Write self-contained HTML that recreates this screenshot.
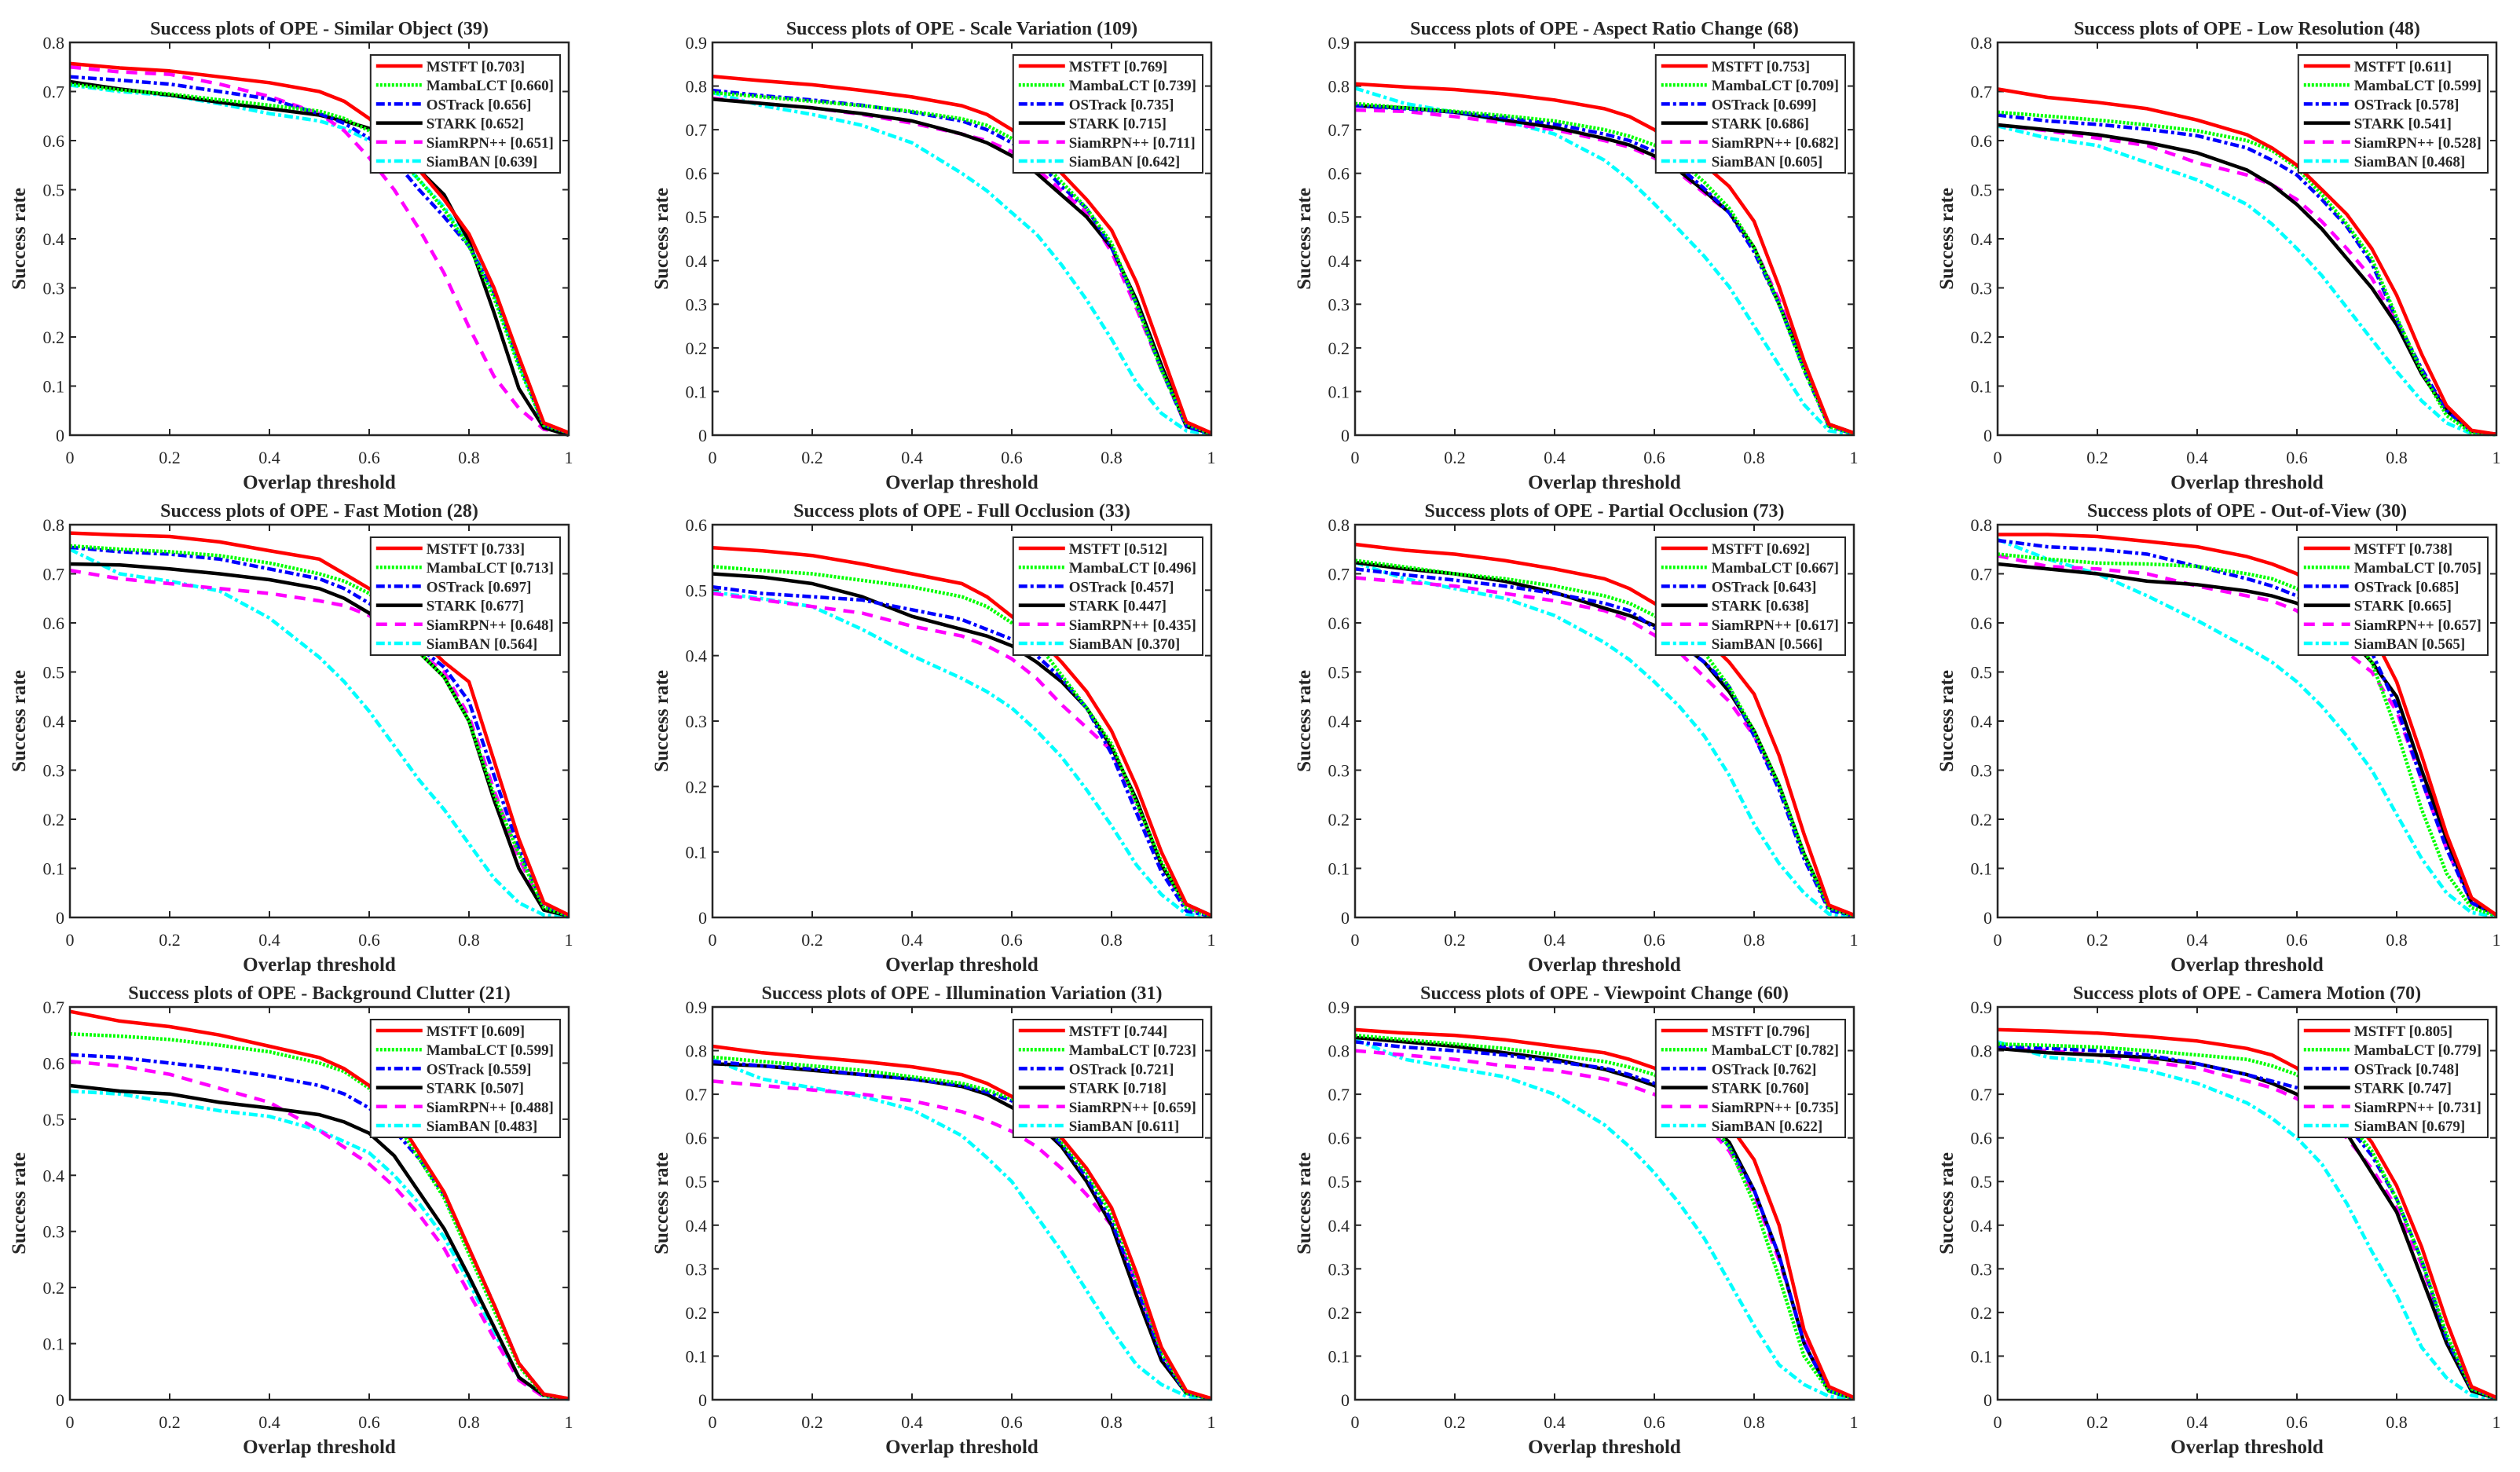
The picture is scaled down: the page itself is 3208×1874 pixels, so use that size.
<!DOCTYPE html>
<html><head><meta charset="utf-8"><style>
html,body{margin:0;padding:0;background:#fff;}
svg{display:block;}
text{font-family:"Liberation Serif",serif;fill:#262626;}
</style></head><body>
<svg id="fig" width="3208" height="1874" viewBox="0 0 3208 1874" xmlns="http://www.w3.org/2000/svg"></svg>
<script>
const xs = [0,0.1,0.2,0.3,0.4,0.5,0.55,0.6,0.65,0.7,0.75,0.8,0.85,0.9,0.95,1];
const xTicks = ["0","0.2","0.4","0.6","0.8","1"];
const trackers = ["MSTFT","MambaLCT","OSTrack","STARK","SiamRPN++","SiamBAN"];
const titles = ["Similar Object (39)","Scale Variation (109)","Aspect Ratio Change (68)","Low Resolution (48)","Fast Motion (28)","Full Occlusion (33)","Partial Occlusion (73)","Out-of-View (30)","Background Clutter (21)","Illumination Variation (31)","Viewpoint Change (60)","Camera Motion (70)"];
const yMaxes = [0.8,0.9,0.9,0.8,0.8,0.6,0.8,0.8,0.7,0.9,0.9,0.9];
const scores = [
["0.703","0.660","0.656","0.652","0.651","0.639"],
["0.769","0.739","0.735","0.715","0.711","0.642"],
["0.753","0.709","0.699","0.686","0.682","0.605"],
["0.611","0.599","0.578","0.541","0.528","0.468"],
["0.733","0.713","0.697","0.677","0.648","0.564"],
["0.512","0.496","0.457","0.447","0.435","0.370"],
["0.692","0.667","0.643","0.638","0.617","0.566"],
["0.738","0.705","0.685","0.665","0.657","0.565"],
["0.609","0.599","0.559","0.507","0.488","0.483"],
["0.744","0.723","0.721","0.718","0.659","0.611"],
["0.796","0.782","0.762","0.760","0.735","0.622"],
["0.805","0.779","0.748","0.747","0.731","0.679"]];
const c1 = [[.757,.748,.742,.73,.718,.70,.68,.645,.60,.54,.48,.41,.30,.16,.025,.005],[.715,.703,.695,.683,.672,.66,.645,.62,.58,.52,.46,.385,.28,.14,.02,.005],[.73,.723,.715,.70,.685,.655,.635,.605,.56,.50,.445,.385,.29,.15,.02,.005],[.72,.705,.693,.678,.665,.652,.64,.625,.59,.54,.49,.395,.25,.095,.015,0],[.75,.74,.735,.715,.69,.655,.62,.565,.50,.42,.33,.22,.12,.055,.012,.003],[.713,.70,.692,.675,.655,.64,.625,.60,.57,.52,.465,.39,.29,.145,.02,.003]];
const c2 = [[.822,.812,.803,.79,.775,.755,.735,.70,.655,.60,.54,.47,.35,.19,.03,.005],[.785,.775,.765,.755,.742,.725,.71,.68,.64,.58,.52,.44,.30,.15,.025,.003],[.79,.778,.768,.756,.74,.72,.70,.67,.63,.57,.52,.43,.30,.15,.02,.003],[.77,.76,.75,.737,.72,.69,.67,.64,.60,.55,.50,.43,.31,.16,.02,.003],[.772,.76,.75,.735,.715,.69,.675,.65,.61,.56,.51,.42,.29,.15,.02,.003],[.785,.755,.735,.71,.67,.60,.56,.51,.46,.39,.31,.22,.12,.05,.01,.002]];
const c3 = [[.805,.798,.792,.782,.768,.748,.73,.70,.66,.62,.57,.49,.34,.17,.025,.005],[.76,.75,.742,.732,.72,.70,.685,.665,.63,.58,.52,.43,.30,.15,.02,.003],[.755,.748,.74,.728,.713,.69,.675,.65,.615,.565,.51,.42,.30,.15,.02,.003],[.755,.75,.74,.722,.705,.68,.665,.64,.605,.56,.51,.43,.30,.16,.025,.005],[.745,.742,.73,.715,.70,.675,.66,.635,.60,.555,.51,.43,.31,.16,.02,.003],[.795,.76,.74,.72,.69,.63,.585,.53,.47,.41,.34,.25,.16,.07,.01,.002]];
const c4 = [[.705,.688,.678,.665,.642,.612,.585,.55,.50,.45,.38,.285,.165,.06,.01,.002],[.658,.65,.642,.632,.62,.60,.58,.545,.49,.43,.36,.24,.13,.04,.005,.001],[.652,.64,.633,.623,.61,.585,.56,.53,.48,.425,.35,.235,.135,.05,.008,.002],[.632,.622,.612,.596,.575,.54,.51,.47,.42,.36,.30,.225,.125,.05,.008,.002],[.632,.62,.605,.59,.555,.53,.51,.48,.435,.38,.32,.23,.13,.05,.008,.002],[.63,.605,.59,.555,.52,.47,.43,.38,.325,.26,.195,.13,.07,.025,.003,.001]];
const c5 = [[.783,.779,.776,.765,.747,.73,.70,.67,.63,.57,.52,.48,.32,.16,.03,.005],[.757,.75,.745,.737,.722,.70,.685,.66,.61,.54,.49,.40,.25,.13,.02,.003],[.754,.745,.74,.73,.71,.69,.67,.64,.60,.55,.51,.44,.29,.14,.025,.003],[.72,.718,.71,.70,.688,.67,.65,.62,.58,.54,.49,.40,.24,.10,.015,.003],[.707,.69,.68,.67,.66,.645,.635,.615,.58,.54,.50,.41,.26,.12,.02,.003],[.75,.70,.685,.665,.61,.53,.48,.42,.35,.28,.22,.15,.08,.03,.005,.001]];
const c6 = [[.565,.56,.553,.54,.525,.51,.49,.46,.43,.39,.345,.285,.20,.10,.02,.003],[.536,.53,.525,.515,.505,.49,.475,.45,.42,.37,.32,.265,.175,.085,.015,.002],[.505,.495,.49,.485,.47,.455,.44,.425,.40,.365,.32,.25,.16,.07,.01,.002],[.525,.52,.51,.49,.46,.44,.43,.415,.39,.36,.32,.26,.18,.08,.02,.003],[.495,.485,.475,.465,.445,.43,.415,.395,.365,.325,.29,.255,.175,.08,.015,.002],[.497,.487,.475,.44,.40,.365,.345,.32,.285,.245,.195,.14,.08,.035,.005,.001]];
const c7 = [[.76,.748,.74,.727,.71,.69,.67,.64,.61,.57,.52,.455,.33,.17,.025,.005],[.727,.714,.70,.69,.675,.655,.64,.615,.58,.54,.47,.38,.27,.13,.02,.003],[.71,.698,.687,.675,.66,.64,.625,.59,.56,.52,.47,.37,.26,.12,.015,.003],[.723,.71,.70,.685,.662,.63,.615,.595,.56,.52,.46,.38,.27,.13,.02,.003],[.692,.683,.675,.66,.645,.625,.605,.575,.54,.49,.44,.37,.27,.13,.02,.003],[.723,.69,.67,.65,.615,.56,.525,.48,.43,.37,.29,.19,.11,.05,.007,.001]];
const c8 = [[.78,.78,.776,.766,.755,.735,.72,.70,.665,.63,.58,.48,.33,.17,.04,.005],[.74,.73,.722,.72,.715,.70,.69,.67,.63,.59,.52,.38,.22,.09,.02,.003],[.768,.755,.75,.74,.715,.69,.675,.655,.62,.58,.54,.43,.28,.14,.03,.005],[.72,.71,.70,.685,.678,.665,.655,.64,.61,.575,.52,.45,.30,.16,.03,.005],[.737,.715,.71,.70,.675,.655,.645,.625,.58,.54,.50,.42,.28,.14,.03,.005],[.77,.73,.70,.655,.605,.55,.52,.48,.43,.37,.30,.21,.12,.05,.01,.002]];
const c9 = [[.692,.675,.665,.65,.63,.61,.59,.56,.51,.44,.37,.27,.17,.065,.01,.002],[.652,.648,.642,.632,.62,.60,.585,.555,.50,.43,.36,.26,.16,.06,.008,.002],[.615,.61,.60,.59,.577,.56,.545,.52,.48,.43,.365,.27,.17,.065,.01,.002],[.56,.55,.545,.53,.52,.508,.495,.475,.435,.37,.305,.22,.13,.04,.008,.002],[.603,.595,.58,.555,.53,.48,.45,.42,.38,.33,.27,.19,.11,.035,.005,.001],[.55,.545,.53,.515,.505,.48,.46,.44,.40,.35,.29,.21,.12,.04,.006,.001]];
const c10 = [[.81,.795,.785,.775,.763,.745,.725,.695,.66,.60,.53,.44,.29,.12,.02,.003],[.785,.775,.765,.755,.74,.725,.71,.69,.65,.59,.52,.425,.28,.11,.015,.002],[.775,.765,.758,.745,.735,.72,.705,.685,.645,.585,.51,.41,.26,.10,.015,.002],[.77,.765,.755,.745,.735,.718,.70,.67,.635,.58,.50,.40,.24,.09,.015,.002],[.73,.72,.71,.70,.685,.66,.64,.615,.58,.53,.47,.40,.27,.11,.015,.002],[.78,.735,.715,.695,.665,.605,.555,.50,.42,.34,.25,.16,.08,.035,.008,.001]];
const c11 = [[.848,.84,.835,.825,.81,.795,.78,.76,.72,.68,.63,.55,.40,.16,.03,.005],[.835,.825,.815,.805,.79,.775,.762,.745,.70,.65,.58,.45,.28,.10,.02,.003],[.82,.808,.80,.79,.775,.76,.745,.725,.68,.64,.58,.48,.33,.13,.02,.003],[.83,.82,.81,.795,.78,.757,.74,.72,.685,.645,.59,.48,.33,.13,.02,.003],[.80,.79,.78,.765,.755,.735,.72,.70,.67,.635,.57,.47,.32,.14,.02,.003],[.825,.78,.76,.74,.70,.63,.58,.52,.45,.37,.27,.17,.08,.035,.008,.001]];
const c12 = [[.848,.845,.84,.832,.822,.805,.79,.76,.71,.66,.59,.49,.35,.18,.03,.005],[.815,.812,.808,.80,.79,.78,.765,.745,.70,.64,.57,.46,.32,.15,.025,.003],[.81,.805,.80,.79,.77,.745,.73,.715,.67,.63,.56,.46,.32,.14,.025,.003],[.805,.795,.79,.785,.77,.745,.725,.70,.66,.61,.52,.43,.28,.13,.02,.003],[.805,.80,.79,.775,.76,.73,.715,.69,.65,.60,.53,.44,.31,.14,.02,.003],[.82,.785,.775,.755,.725,.68,.645,.60,.54,.45,.34,.24,.12,.05,.01,.001]];
const curves = [c1,c2,c3,c4,c5,c6,c7,c8,c9,c10,c11,c12];

const NS = "http://www.w3.org/2000/svg";
const fig = document.getElementById('fig');
const colors = ["#ff0000","#00ff00","#0000ff","#000000","#ff00ff","#00ffff"];
const dashes = [null,"3 2","11 4 4 4","", "14 10","11 4 4 4"];
const colLeft = [89,907,1725,2543];
const rowTop = [54,668,1282];
const W = 635, H = 500;

function mk(tag, attrs, parent){const e=document.createElementNS(NS,tag);for(const k in attrs)e.setAttribute(k,attrs[k]);parent.appendChild(e);return e;}

for(let p=0;p<12;p++){
  const L=colLeft[p%4], T=rowTop[Math.floor(p/4)], R=L+W, B=T+H;
  const ymax=yMaxes[p];
  const sx=v=>L+v*W, sy=v=>B-v/ymax*H;
  const g=mk('g',{},fig);
  
  
  const tt=mk('text',{x:(L+R)/2,y:T-10,'text-anchor':'middle','font-size':24,'font-weight':'bold',fill:'#000'},g);
  tt.textContent='Success plots of OPE - '+titles[p];
  
  
  // ticks
  xTicks.forEach(t=>{const v=parseFloat(t),x=sx(v);
    mk('line',{x1:x,y1:B,x2:x,y2:B-8,stroke:'#262626','stroke-width':2},g);
    mk('line',{x1:x,y1:T,x2:x,y2:T+8,stroke:'#262626','stroke-width':2},g);
    const tx=mk('text',{x:x,y:B+36,'text-anchor':'middle','font-size':22},g);tx.textContent=t;
    
    
  });
  const nY=Math.round(ymax*10);
  for(let i=0;i<=nY;i++){const v=i/10,y=sy(v);
    mk('line',{x1:L,y1:y,x2:L+8,y2:y,stroke:'#262626','stroke-width':2},g);
    mk('line',{x1:R,y1:y,x2:R-8,y2:y,stroke:'#262626','stroke-width':2},g);
    const ty=mk('text',{x:L-7,y:y+8,'text-anchor':'end','font-size':22},g);ty.textContent=i===0?'0':v.toFixed(1);
    
    
  }
  // series
  for(let s=5;s>=0;s--){
    const pts=xs.map((x,i)=>sx(x).toFixed(1)+','+sy(curves[p][s][i]).toFixed(1)).join(' ');
    const pl=mk('polyline',{points:pts,fill:'none',stroke:colors[s],'stroke-width':4.5,'stroke-linejoin':'round'},g);
    if(dashes[s])pl.setAttribute('stroke-dasharray',dashes[s]);
    
    
  }
  mk('rect',{x:L,y:T,width:W,height:H,fill:'none',stroke:'#262626','stroke-width':2.5},g);
  const xl=mk('text',{x:(L+R)/2,y:B+68,'text-anchor':'middle','font-size':25,'font-weight':'bold'},g);
  xl.textContent='Overlap threshold';
  
  
  const yl=mk('text',{x:0,y:0,'text-anchor':'middle','font-size':25,'font-weight':'bold',transform:'translate('+(L-57)+','+((T+B)/2)+') rotate(-90)'},g);
  yl.textContent='Success rate';
  
  
  // legend
  const lg=mk('g',{},g);
  
  
  const box=mk('rect',{fill:'#fff',stroke:'#262626','stroke-width':2},lg);
  let maxw=0;const texts=[];
  for(let s=0;s<6;s++){
    const t=mk('text',{y:T+30+s*24.2+7,'font-size':19,'font-weight':'bold',fill:'#000'},lg);
    t.textContent=trackers[s]+' ['+scores[p][s]+']';
    
    
    texts.push(t);maxw=Math.max(maxw,t.getComputedTextLength());
  }
  const bw=71+maxw+8, bx=R-11-bw, by=T+16;
  box.setAttribute('x',bx);box.setAttribute('y',by);box.setAttribute('width',bw);box.setAttribute('height',150);
  for(let s=0;s<6;s++){
    texts[s].setAttribute('x',bx+71);
    const y=T+30+s*24.2;
    const ln=mk('line',{x1:bx+7,x2:bx+66,y1:y,y2:y,stroke:colors[s],'stroke-width':4.5},lg);
    if(dashes[s])ln.setAttribute('stroke-dasharray',dashes[s]);
  }
}
</script>
</body></html>
